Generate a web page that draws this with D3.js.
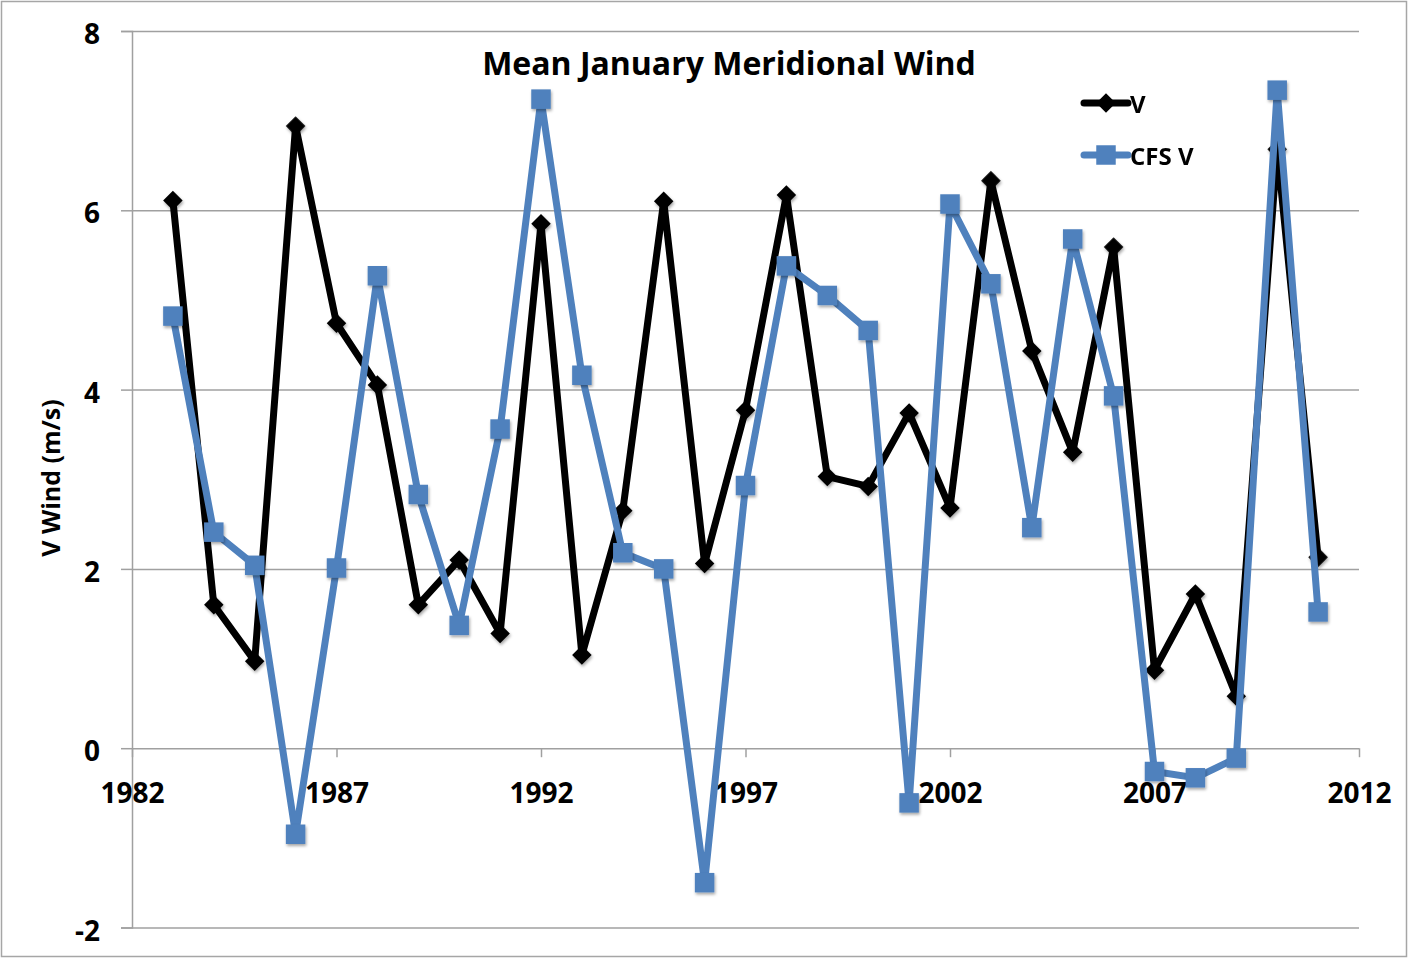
<!DOCTYPE html>
<html>
<head>
<meta charset="utf-8">
<script src="https://cdn.jsdelivr.net/npm/d3@7"></script>
<style>
  body { margin: 0; background: #fff; }
  text { font-family: "Open Sans", Lato, sans-serif; font-weight: bold; fill: #000; }
</style>
</head>
<body>
<svg id="chart" width="1409" height="960"></svg>
<script>
// data
const years = [1983, 1984, 1985, 1986, 1987, 1988, 1989, 1990, 1991, 1992,
  1993, 1994, 1995, 1996, 1997, 1998, 1999, 2000, 2001, 2002,
  2003, 2004, 2005, 2006, 2007, 2008, 2009, 2010, 2011]
const vWind = [6.11, 1.60, 0.97, 6.94, 4.74, 4.05, 1.60, 2.10, 1.28, 5.85,
  1.04, 2.65, 6.10, 2.06, 3.77, 6.17, 3.03, 2.92, 3.74, 2.68,
  6.33, 4.43, 3.30, 5.59, 0.87, 1.72, 0.58, 6.68, 2.13]
const cfsV = [4.82, 2.41, 2.04, -0.96, 2.01, 5.27, 2.83, 1.37, 3.56, 7.24,
  4.16, 2.18, 2.00, -1.50, 2.93, 5.38, 5.05, 4.66, -0.61, 6.07,
  5.18, 2.46, 5.68, 3.93, -0.26, -0.33, -0.11, 7.34, 1.52]
const xTicks = [1982, 1987, 1992, 1997, 2002, 2007, 2012]
const yTicks = [-2, 0, 2, 4, 6, 8]

const svg = d3.select('#chart')
const width = 1409
const height = 960
const margin = { top: 31, right: 50, bottom: 32.5, left: 132 }
const gridColor = '#a0a0a0'
const blue = '#4f81bd'

// outer frame
svg.append('rect')
  .attr('x', 1.5).attr('y', 1.5)
  .attr('width', width - 4).attr('height', height - 5)
  .attr('fill', 'none')
  .attr('stroke', '#a6a6a6')
  .attr('stroke-width', 1.5)

const defs = svg.append('defs')
defs.append('filter')
  .attr('id', 'shadow')
  .attr('x', '-50%').attr('y', '-50%').attr('width', '200%').attr('height', '200%')
  .append('feDropShadow')
  .attr('dx', 1).attr('dy', 2)
  .attr('stdDeviation', 1.5)
  .attr('flood-color', '#000')
  .attr('flood-opacity', 0.35)

const xScale = d3.scaleLinear()
  .domain([1982, 2012])
  .range([margin.left, width - margin.right])
const yScale = d3.scaleLinear()
  .domain([-2, 8])
  .range([height - margin.bottom, margin.top])

// plain hyphen for negatives, like the original
const fmt = d => String(d)

// horizontal gridlines + y axis
const yAxisG = svg.append('g')
  .attr('transform', `translate(${margin.left},0)`)
  .call(d3.axisLeft(yScale).tickValues(yTicks).tickSize(11).tickPadding(21).tickFormat(fmt))

yAxisG.select('.domain')
  .attr('stroke', gridColor)
  .attr('stroke-width', 1.5)

yAxisG.selectAll('.tick line')
  .attr('stroke', gridColor)
  .attr('stroke-width', 1.5)

yAxisG.selectAll('.tick')
  .append('line')
  .attr('x1', 0)
  .attr('x2', width - margin.right - margin.left)
  .attr('stroke', gridColor)
  .attr('stroke-width', 1.5)

yAxisG.selectAll('.tick text')
  .attr('dy', '0.45em')
  .style('font-size', '28px')

// x axis sits on the zero line
const xAxisG = svg.append('g')
  .attr('transform', `translate(0,${yScale(0)})`)
  .call(d3.axisBottom(xScale).tickValues(xTicks).tickSize(9).tickPadding(20).tickFormat(fmt))

xAxisG.select('.domain').remove()

xAxisG.selectAll('.tick line')
  .attr('stroke', gridColor)
  .attr('stroke-width', 1.5)

xAxisG.selectAll('.tick text')
  .attr('dy', '0.93em')
  .style('font-size', '28px')

// titles
svg.append('text')
  .attr('x', 729)
  .attr('y', 75)
  .attr('text-anchor', 'middle')
  .style('font-size', '32px')
  .text('Mean January Meridional Wind')

svg.append('text')
  .attr('transform', 'translate(60,478) rotate(-90)')
  .attr('text-anchor', 'middle')
  .style('font-size', '25px')
  .text('V Wind (m/s)')

// series
const line = d3.line()
  .x(d => xScale(d.year))
  .y(d => yScale(d.value))

const vData = years.map((y, i) => ({ year: y, value: vWind[i] }))
const cfsData = years.map((y, i) => ({ year: y, value: cfsV[i] }))

const diamond = d3.symbol().type(d3.symbolSquare).size(190)
const square = d3.symbol().type(d3.symbolSquare).size(380)

svg.append('path')
  .datum(vData)
  .attr('d', line)
  .attr('fill', 'none')
  .attr('stroke', '#000')
  .attr('stroke-width', 7)
  .attr('stroke-linejoin', 'round')

svg.append('g')
  .attr('filter', 'url(#shadow)')
  .selectAll('path')
  .data(vData)
  .enter().append('path')
  .attr('d', diamond)
  .attr('transform', d => `translate(${xScale(d.year)},${yScale(d.value)}) rotate(45)`)
  .attr('fill', '#000')

svg.append('path')
  .datum(cfsData)
  .attr('d', line)
  .attr('fill', 'none')
  .attr('stroke', blue)
  .attr('stroke-width', 7)
  .attr('stroke-linejoin', 'round')

svg.append('g')
  .attr('filter', 'url(#shadow)')
  .selectAll('path')
  .data(cfsData)
  .enter().append('path')
  .attr('d', square)
  .attr('transform', d => `translate(${xScale(d.year)},${yScale(d.value)})`)
  .attr('fill', blue)

// legend
const legend = [
  { name: 'V', color: '#000', symbol: diamond, rot: 45, y: 103 },
  { name: 'CFS V', color: blue, symbol: square, rot: 0, y: 155 }
]

const legendG = svg.append('g')
  .selectAll('g')
  .data(legend)
  .enter().append('g')
  .attr('transform', d => `translate(1084,${d.y})`)

legendG.append('line')
  .attr('x1', 0).attr('x2', 44)
  .attr('stroke', d => d.color)
  .attr('stroke-width', 7)
  .attr('stroke-linecap', 'round')

legendG.append('path')
  .attr('d', d => d.symbol())
  .attr('transform', d => `translate(22,0) rotate(${d.rot})`)
  .attr('fill', d => d.color)

legendG.append('text')
  .attr('x', 46)
  .attr('dy', '0.4em')
  .style('font-size', '24px')
  .text(d => d.name)
</script>
</body>
</html>
